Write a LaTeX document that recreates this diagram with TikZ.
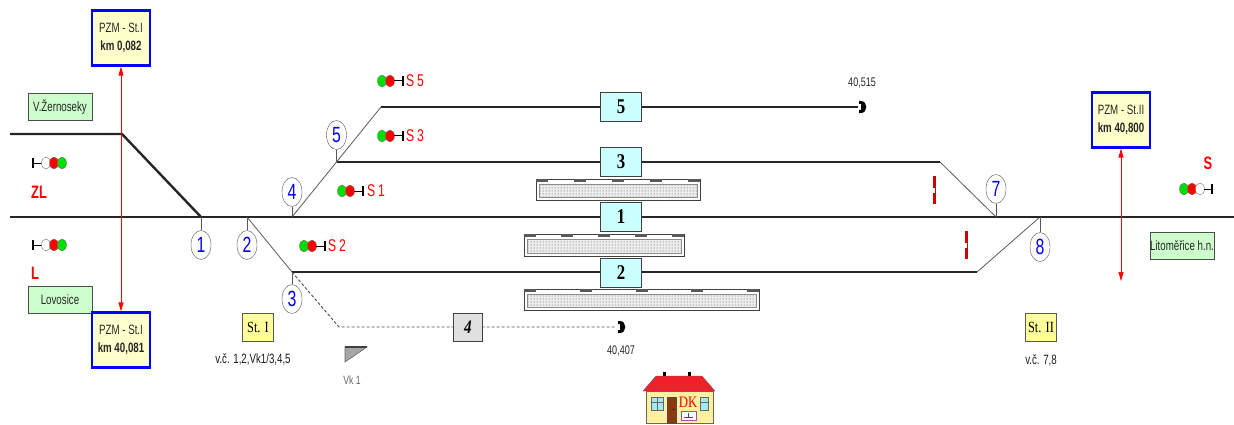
\documentclass[tikz,border=0pt]{standalone}
\usepackage{fontspec}
\setmainfont{Liberation Sans}[FakeStretch=0.72]
\newfontfamily\trackfont{Liberation Serif}[FakeStretch=0.8]
\usetikzlibrary{shapes.geometric,patterns,arrows.meta,calc}

\definecolor{pzmfill}{HTML}{FFFFCC}
\definecolor{stafill}{HTML}{CCFFCC}
\definecolor{trkfill}{HTML}{CCFFFF}
\definecolor{stfill}{HTML}{FFFF99}
\definecolor{sigred}{HTML}{FF0000}
\definecolor{siggreen}{HTML}{00DD00}
\definecolor{roofred}{HTML}{F0202A}
\definecolor{wallyel}{HTML}{FFF0A0}
\definecolor{doorbrown}{HTML}{8B3A10}
\definecolor{winblue}{HTML}{A8E8F0}

% platform: x1 y1 x2 y2 number-of-marks
\newcommand\platform[5]{%
  \draw[line width=0.8pt, black!75, fill=white] (#1,#2) rectangle (#3,#4);
  \fill[black!7] ({#1+3},{#2+5}) rectangle ({#3-3},{#4-3});
  \draw[black!45, pattern=dots, pattern color=black!70] ({#1+3},{#2+5}) rectangle ({#3-3},{#4-3});
  \pgfmathsetmacro\segstep{(#3-#1-12)/(#5-1)}
  \foreach \k in {1,...,#5}{%
    \fill[black!65] ({#1+(\k-1)*\segstep},#2) rectangle ({#1+(\k-1)*\segstep+12},{#2+3});}
}

\begin{document}
\begin{tikzpicture}[x=1pt,y=-1pt,
  mainline/.style={line width=2.4pt, black!85},
  trackline/.style={line width=1.3pt, black!85},
  switchline/.style={line width=0.8pt, black!65},
  sidingline/.style={line width=0.9pt, black!70, dash pattern=on 3pt off 2pt},
  swnum/.style={ellipse, draw=black!65, fill=white, minimum width=20pt, minimum height=29pt,
    inner sep=0pt, text=blue, font=\fontsize{22}{22}\selectfont},
  trkbox/.style={draw=black!75, fill=trkfill, minimum width=41pt, minimum height=29pt,
    inner sep=0pt, font=\trackfont\bfseries\fontsize{21}{21}\selectfont},
  pzm/.style={draw=blue, line width=2.2pt, fill=pzmfill, minimum width=58pt, minimum height=55pt,
    align=center, text=black!85, font=\fontsize{13.5}{18}\selectfont},
  stabox/.style={draw=black!70, fill=stafill, minimum width=64pt, minimum height=27pt,
    inner sep=0pt, text=black!85, font=\fontsize{13.5}{13.5}\selectfont},
  stbox/.style={draw=black!65, fill=stfill, minimum width=31pt, minimum height=28pt,
    inner sep=0pt, font=\trackfont\fontsize{15.5}{15.5}\selectfont},
  lamp/.style={ellipse, minimum width=9pt, minimum height=12pt, inner sep=0pt, draw=black!55},
  siglabel/.style={text=sigred, font=\fontsize{17}{17}\selectfont},
  dirlabel/.style={text=sigred, font=\bfseries\fontsize{18}{18}\selectfont},
  kmlabel/.style={text=black!85, font=\fontsize{12.5}{12.5}\selectfont},
  pzmarrow/.style={red, line width=0.7pt, {Triangle[length=9pt,width=5pt]}-{Triangle[length=9pt,width=5pt]}},
  % signal: lamps green, red, then post on the right
  sigfwd/.pic={
    \node[lamp, fill=siggreen] (-g) at (0,0) {};
    \node[lamp, fill=sigred] (-r) at (8,0) {};
    \draw[line width=1pt] (12,0) -- (20,0);
    \draw[line width=2pt] (21,-5) -- (21,5);
  },
  % signal: post on the left, then white, red, green lamps
  sigback/.pic={
    \draw[line width=2pt] (0,-5) -- (0,5);
    \draw[line width=1pt] (0,0) -- (9,0);
    \node[lamp, fill=white] (-w) at (13,0) {};
    \node[lamp, fill=sigred] (-r) at (21,0) {};
    \node[lamp, fill=siggreen] (-g) at (29,0) {};
  },
  % signal: green, red, white lamps, post on the right
  sigthree/.pic={
    \node[lamp, fill=siggreen] (-g) at (0,0) {};
    \node[lamp, fill=sigred] (-r) at (8,0) {};
    \node[lamp, fill=white] (-w) at (16,0) {};
    \draw[line width=1pt] (20,0) -- (27,0);
    \draw[line width=2pt] (28,-5) -- (28,5);
  },
  % buffer stop at the end of a siding
  bufstop/.pic={
    \fill (-1,-6) -- (1,-6) .. controls (8,-6) and (8,6) .. (1,6) -- (-1,6) -- (-1,3) -- (1,3) -- (1,-3) -- (-1,-3) -- cycle;
  },
  % shunting marker
  marker/.pic={
    \fill[red!80!black] (-1.5,-14) rectangle (1.5,14);
    \fill[white] (-1,-2) rectangle (1,3);
  }
]
\useasboundingbox (0,0) rectangle (1234,425);

% ---- track geometry ----
\coordinate (wend) at (10,217);
\coordinate (eend) at (1234,217);
\coordinate (zlend) at (10,134);
\coordinate (zlbend) at (122,134);
\coordinate (sw1) at (201,217);
\coordinate (sw2) at (247,217);
\coordinate (sw3) at (292,272);
\coordinate (sw4) at (292,217);
\coordinate (t5start) at (381,107);
\coordinate (sw5) at ($(sw4)!0.5!(t5start)$);
\coordinate (t5end) at (858,107);
\coordinate (t3bend) at (940,162);
\coordinate (sw7) at (996,217);
\coordinate (t2bend) at (977,272);
\coordinate (sw8) at (1040,217);
\coordinate (t4bend) at (339,327);
\coordinate (t4end) at (616,327);

% ---- platforms ----
\platform{536}{179}{700}{200}{5}
\platform{524}{234}{684}{256}{5}
\platform{524}{289}{759}{310}{5}

% ---- tracks ----
\draw[trackline] (sw5) -- (t3bend);
\draw[switchline] (t3bend) -- (sw7);
\draw[trackline] (t5start) -- (t5end);
\draw[switchline] (sw4) -- (t5start);
\draw[switchline] (sw2) -- (sw3);
\draw[trackline] (sw3) -- (t2bend);
\draw[switchline] (t2bend) -- (sw8);
\draw[sidingline] (sw3) -- (t4bend) -- (t4end);
\draw[mainline] (zlend) -- (zlbend) -- (sw1);
\draw[mainline] (wend) -- (eend);

\pic at (860,107) {bufstop};
\pic at (619,327) {bufstop};
\node[kmlabel] (km5) at (862,83) {40,515};
\node[kmlabel] (km4) at (621,351) {40,407};

% ---- track numbers ----
\node[trkbox] (tr5) at (621,107) {5};
\node[trkbox] (tr3) at (621,162) {3};
\node[trkbox] (tr1) at (621,217) {1};
\node[trkbox] (tr2) at (621,273) {2};
\node[trkbox, fill=black!12, minimum width=29pt, minimum height=28pt,
  font=\trackfont\bfseries\itshape\fontsize{19}{19}\selectfont] (tr4) at (468,327) {4};

% ---- switch numbers ----
\node[swnum] (c1) at (201,245) {1};
\node[swnum] (c2) at (247,245) {2};
\node[swnum] (c3) at (292,299) {3};
\node[swnum] (c4) at (292,192) {4};
\node[swnum] (c5) at ($(sw5)+(0,-27)$) {5};
\node[swnum] (c7) at (996,189) {7};
\node[swnum] (c8) at (1040,247) {8};
\draw[switchline] (sw1) -- (c1);
\draw[switchline] (sw2) -- (c2);
\draw[switchline] (sw3) -- (c3);
\draw[switchline] (sw4) -- (c4);
\draw[switchline] (sw5) -- (c5);
\draw[switchline] (sw7) -- (c7);
\draw[switchline] (sw8) -- (c8);

% ---- signals ----
\pic (zl) at (33,163) {sigback};
\node[dirlabel] (lzl) at (39,192) {ZL};
\pic (sl) at (33,245) {sigback};
\node[dirlabel] (ll) at (35,273) {L};
\pic (s5) at (382,81) {sigfwd};
\node[siglabel] (ls5) at (415,81) {S\,5};
\pic (s3) at (382,136) {sigfwd};
\node[siglabel] (ls3) at (415,136) {S\,3};
\pic (s1) at (342,191) {sigfwd};
\node[siglabel] (ls1) at (376,191) {S\,1};
\pic (s2) at (304,246) {sigfwd};
\node[siglabel] (ls2) at (337,246) {S\,2};
\pic (ss) at (1184,189) {sigthree};
\node[dirlabel] (lss) at (1208,163) {S};

\pic at (934,190) {marker};
\pic at (966,245) {marker};

% ---- neighbouring stations ----
\node[stabox] (zern) at (60,107) {V.Žernoseky};
\node[stabox] (lovo) at (60,300) {Lovosice};
\node[stabox] (lito) at (1182,246) {Litoměřice h.n.};

% ---- station limits ----
\node[pzm] (pzm1) at (121,38) {PZM - St.I\\\textbf{km 0,082}};
\node[pzm] (pzm2) at (121,340) {PZM - St.I\\\textbf{km 40,081}};
\node[pzm] (pzm3) at (1121,120) {PZM - St.II\\\textbf{km 40,800}};
\coordinate (pzm3end) at (1121,281);
\draw[pzmarrow] (pzm1) -- (pzm2);
\draw[pzmarrow] (pzm3) -- (pzm3end);

% ---- signal boxes ----
\node[stbox] (st1) at (258,327) {St. I};
\node[text=black!90, font=\fontsize{13.5}{13.5}\selectfont] (vc1) at (253,359) {v.č. 1,2,Vk1/3,4,5};
\node[stbox] (st2) at (1041,327) {St. II};
\node[text=black!90, font=\fontsize{13.5}{13.5}\selectfont] (vc2) at (1041,360) {v.č. 7,8};

% ---- derailer Vk 1 ----
\filldraw[fill=black!35, draw=black!60, line width=0.6pt] (345,347) -- (367,347) -- (345,362) -- cycle;
\draw[black!75, line width=1.2pt] (345,347) -- (367,347);
\node[text=black!60, font=\fontsize{12}{12}\selectfont] (vk) at (352,380) {Vk 1};

% ---- station building ----
\fill[black] (663,372) rectangle (666,381);
\fill[black] (688,372) rectangle (691,381);
\filldraw[fill=wallyel, draw=black!60] (646,391) rectangle (713,423);
\filldraw[fill=roofred, draw=black!60] (643,391) -- (656,376) -- (702,376) -- (715,391) -- cycle;
\filldraw[fill=doorbrown, draw=black!70] (667,397) rectangle (676,423);
\fill[black] (673.5,409.5) circle (0.7);
\filldraw[fill=winblue, draw=black!60] (651,397) rectangle (663,410);
\draw[black!60] (657,397) -- (657,410) (651,402) -- (663,402);
\filldraw[fill=winblue, draw=black!60] (700,397) rectangle (708,410);
\draw[black!60] (700,402) -- (708,402);
\node[text=red, font=\trackfont\fontsize{16}{16}\selectfont, inner sep=0pt] (dk) at (688,402) {DK};
\filldraw[fill=white, draw=violet!70, line width=0.8pt] (681,411) rectangle (696,420);
\draw[black!70] (684,417) -- (693,417) (688.5,413) -- (688.5,417);
\end{tikzpicture}
\end{document}
